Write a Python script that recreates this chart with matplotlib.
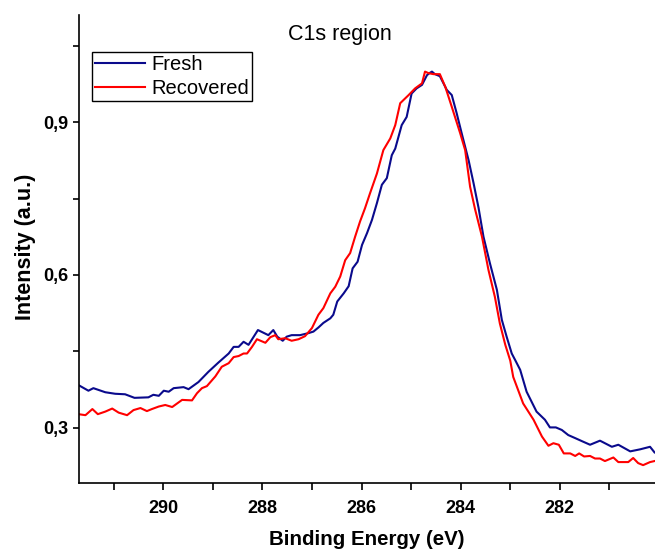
import matplotlib
matplotlib.use("Agg")
import matplotlib.pyplot as plt
from matplotlib.ticker import MultipleLocator, FuncFormatter

plt.rcParams['font.family'] = ['Liberation Sans', 'DejaVu Sans']

# Binding energy (eV) and normalised intensity
fresh_be = [291.71, 291.51, 291.41, 291.17, 290.97, 290.77, 290.58, 290.30, 290.20, 290.09,
            289.99, 289.89, 289.79, 289.59, 289.49, 289.29, 289.09, 288.89, 288.68, 288.58,
            288.48, 288.38, 288.28, 288.09, 287.88, 287.78, 287.70, 287.59, 287.51, 287.41,
            287.24, 287.07, 286.97, 286.87, 286.77, 286.63, 286.57, 286.49, 286.36, 286.26,
            286.18, 286.08, 285.99, 285.89, 285.79, 285.69, 285.59, 285.49, 285.39, 285.32,
            285.19, 285.09, 284.99, 284.89, 284.78, 284.68, 284.63, 284.58, 284.52, 284.42,
            284.28, 284.18, 284.08, 283.98, 283.84, 283.74, 283.64, 283.54, 283.41, 283.27,
            283.17, 283.07, 282.97, 282.90, 282.80, 282.67, 282.47, 282.30, 282.20, 282.08,
            281.96, 281.83, 281.69, 281.53, 281.39, 281.19, 280.95, 280.82, 280.58, 280.38,
            280.18, 280.09]
fresh_int = [0.384, 0.373, 0.378, 0.370, 0.367, 0.366, 0.359, 0.360, 0.365, 0.363,
             0.373, 0.371, 0.378, 0.380, 0.376, 0.390, 0.410, 0.428, 0.446, 0.459,
             0.459, 0.469, 0.463, 0.492, 0.482, 0.492, 0.479, 0.471, 0.479, 0.482,
             0.482, 0.486, 0.489, 0.497, 0.506, 0.515, 0.522, 0.548, 0.564, 0.578,
             0.613, 0.626, 0.659, 0.682, 0.708, 0.741, 0.777, 0.790, 0.835, 0.848,
             0.894, 0.910, 0.956, 0.966, 0.973, 0.992, 0.996, 0.999, 0.994, 0.990,
             0.963, 0.953, 0.917, 0.878, 0.825, 0.780, 0.732, 0.675, 0.623, 0.571,
             0.512, 0.478, 0.446, 0.433, 0.414, 0.371, 0.332, 0.316, 0.301, 0.301,
             0.296, 0.286, 0.280, 0.273, 0.267, 0.275, 0.263, 0.267, 0.254, 0.258,
             0.263, 0.252]

recovered_be = [291.71, 291.57, 291.43, 291.32, 291.17, 291.03, 290.90, 290.73, 290.60, 290.46,
                290.33, 290.23, 290.09, 289.96, 289.82, 289.62, 289.42, 289.32, 289.22, 289.12,
                288.95, 288.82, 288.68, 288.58, 288.48, 288.38, 288.31, 288.21, 288.11, 287.94,
                287.84, 287.74, 287.68, 287.54, 287.41, 287.27, 287.14, 287.00, 286.87, 286.77,
                286.63, 286.53, 286.43, 286.33, 286.23, 286.13, 286.03, 285.93, 285.83, 285.69,
                285.56, 285.42, 285.32, 285.22, 285.05, 284.92, 284.78, 284.72, 284.65, 284.55,
                284.42, 284.31, 284.18, 284.01, 283.91, 283.81, 283.71, 283.57, 283.44, 283.31,
                283.21, 283.10, 283.00, 282.94, 282.74, 282.53, 282.36, 282.23, 282.13, 282.02,
                281.92, 281.79, 281.69, 281.61, 281.51, 281.39, 281.29, 281.19, 281.09, 280.92,
                280.82, 280.62, 280.52, 280.42, 280.32, 280.18, 280.09]
recovered_int = [0.327, 0.325, 0.337, 0.327, 0.332, 0.338, 0.330, 0.325, 0.335, 0.339,
                 0.333, 0.337, 0.342, 0.345, 0.341, 0.355, 0.354, 0.368, 0.378, 0.382,
                 0.401, 0.420, 0.427, 0.439, 0.441, 0.446, 0.446, 0.459, 0.474, 0.467,
                 0.478, 0.482, 0.474, 0.476, 0.471, 0.474, 0.480, 0.496, 0.522, 0.535,
                 0.564, 0.577, 0.597, 0.629, 0.643, 0.675, 0.705, 0.731, 0.760, 0.799,
                 0.845, 0.868, 0.894, 0.937, 0.953, 0.966, 0.976, 0.999, 0.996, 0.994,
                 0.994, 0.969, 0.930, 0.878, 0.845, 0.773, 0.729, 0.675, 0.610, 0.557,
                 0.505, 0.463, 0.432, 0.400, 0.348, 0.316, 0.283, 0.265, 0.270, 0.267,
                 0.250, 0.250, 0.245, 0.250, 0.244, 0.245, 0.240, 0.240, 0.235, 0.242,
                 0.233, 0.233, 0.241, 0.231, 0.227, 0.233, 0.235]

fig = plt.figure(figsize=(6.55, 5.54), dpi=100)
ax = fig.add_axes([0.1206, 0.1282, 0.8794, 0.8447])

ax.plot(fresh_be, fresh_int, color='#0A0A8C', lw=1.5, label='Fresh')
ax.plot(recovered_be, recovered_int, color='#FF0000', lw=1.5, label='Recovered')

ax.set_xlim(291.7, 280.08)
ax.set_ylim(0.192, 1.11)

ax.spines['top'].set_visible(False)
ax.spines['right'].set_visible(False)
for s in ('left', 'bottom'):
    ax.spines[s].set_linewidth(1.2)

ax.xaxis.set_major_locator(MultipleLocator(2))
ax.xaxis.set_minor_locator(MultipleLocator(1))
ax.yaxis.set_major_locator(MultipleLocator(0.3))
ax.yaxis.set_minor_locator(MultipleLocator(0.15))
ax.yaxis.set_major_formatter(FuncFormatter(lambda v, p: f"{v:.1f}".replace('.', ',')))

ax.tick_params(which='both', direction='out', width=1.2, length=4)
ax.tick_params(axis='x', which='both', length=5)
ax.tick_params(axis='x', which='major', pad=7)
ax.tick_params(axis='y', which='major', pad=4)
for lbl in ax.get_xticklabels() + ax.get_yticklabels():
    lbl.set_fontsize(13)
    lbl.set_fontweight('bold')

ax.set_xlabel('Binding Energy (eV)', fontsize=14.8, fontweight='bold')
ax.set_ylabel('Intensity (a.u.)', fontsize=15.5, fontweight='bold')
ax.xaxis.set_label_coords(0.5, -0.101)
ax.yaxis.set_label_coords(-0.074, 0.505)

ax.text(0.453, 0.959, 'C1s region', transform=ax.transAxes, fontsize=15.5,
        ha='center', va='center')

leg = ax.legend(loc='upper left', bbox_to_anchor=(0.0226, 0.921), fontsize=14.5,
                frameon=True, fancybox=False, edgecolor='black', framealpha=1,
                borderpad=0.15, borderaxespad=0, handlelength=2.5,
                handletextpad=0.3, labelspacing=0.25)
leg.get_frame().set_linewidth(1.0)

fig.savefig('out.png', dpi=100)
